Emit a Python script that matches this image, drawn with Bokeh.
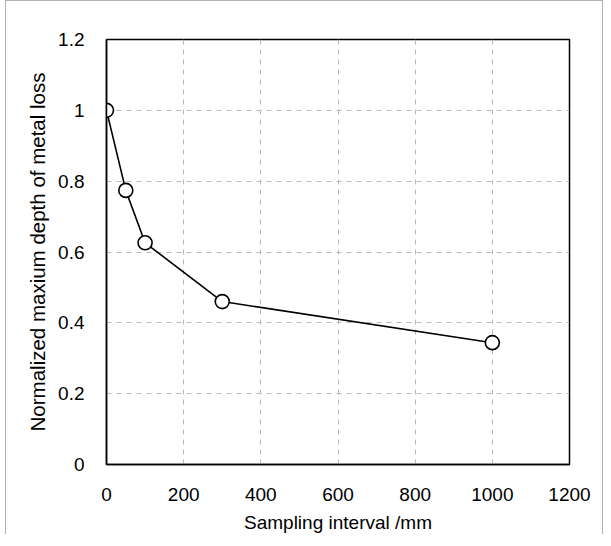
from bokeh.plotting import figure
from bokeh.models import Range1d, FixedTicker
from bokeh.embed import file_html
from bokeh.resources import INLINE

sampling_interval = [0, 50, 100, 300, 1000]
normalized_depth = [1.0, 0.774, 0.626, 0.46, 0.344]
x_ticks = [0, 200, 400, 600, 800, 1000, 1200]
y_ticks = [0, 0.2, 0.4, 0.6, 0.8, 1.0, 1.2]

p = figure(width=598, height=534, output_backend="svg", toolbar_location=None,
           x_range=Range1d(0, 1200), y_range=Range1d(0, 1.2),
           min_border_left=100, min_border_right=35, min_border_top=38, min_border_bottom=68)
p.styles = {"border-left": "1px solid #b0b0b0", "border-top": "1px solid #b0b0b0",
            "border-right": "1px solid #b0b0b0", "margin-left": "5px"}

p.outline_line_color = "black"
p.outline_line_width = 1.5

font = "Liberation Sans"
for ax in (p.xaxis[0], p.yaxis[0]):
    ax.axis_line_color = "black"
    ax.axis_line_width = 1.5
    ax.major_tick_line_color = None
    ax.minor_tick_line_color = None
    ax.major_label_text_font = font
    ax.major_label_text_font_size = "19px"
    ax.major_label_text_color = "black"
    ax.axis_label_text_font = font
    ax.axis_label_text_font_size = "19px"
    ax.axis_label_text_font_style = "normal"
    ax.axis_label_text_color = "black"

p.yaxis.axis_label_text_font_size = "20.5px"
p.xaxis.ticker = FixedTicker(ticks=x_ticks)
p.yaxis.ticker = FixedTicker(ticks=y_ticks)
p.yaxis.major_label_overrides = {0: "0", 0.2: "0.2", 0.4: "0.4", 0.6: "0.6", 0.8: "0.8", 1.0: "1", 1.2: "1.2"}
p.xaxis.major_label_standoff = 17
p.yaxis.major_label_standoff = 16
p.xaxis.axis_label_standoff = 8
p.yaxis.axis_label_standoff = 6
p.xaxis.axis_label = "Sampling interval /mm"
p.yaxis.axis_label = "Normalized maxium depth of metal loss"

p.xgrid.grid_line_color = "#b8b8b8"
p.ygrid.grid_line_color = "#b8b8b8"
p.xgrid.grid_line_dash = "5 5"
p.ygrid.grid_line_dash = "5 5"
p.xgrid.grid_line_width = 1
p.ygrid.grid_line_width = 1

p.line(sampling_interval, normalized_depth, line_color="black", line_width=1.6)
p.scatter(sampling_interval, normalized_depth, marker="circle", size=14,
          fill_color="white", line_color="black", line_width=1.6)

open("out.html", "w").write(file_html(p, INLINE))
